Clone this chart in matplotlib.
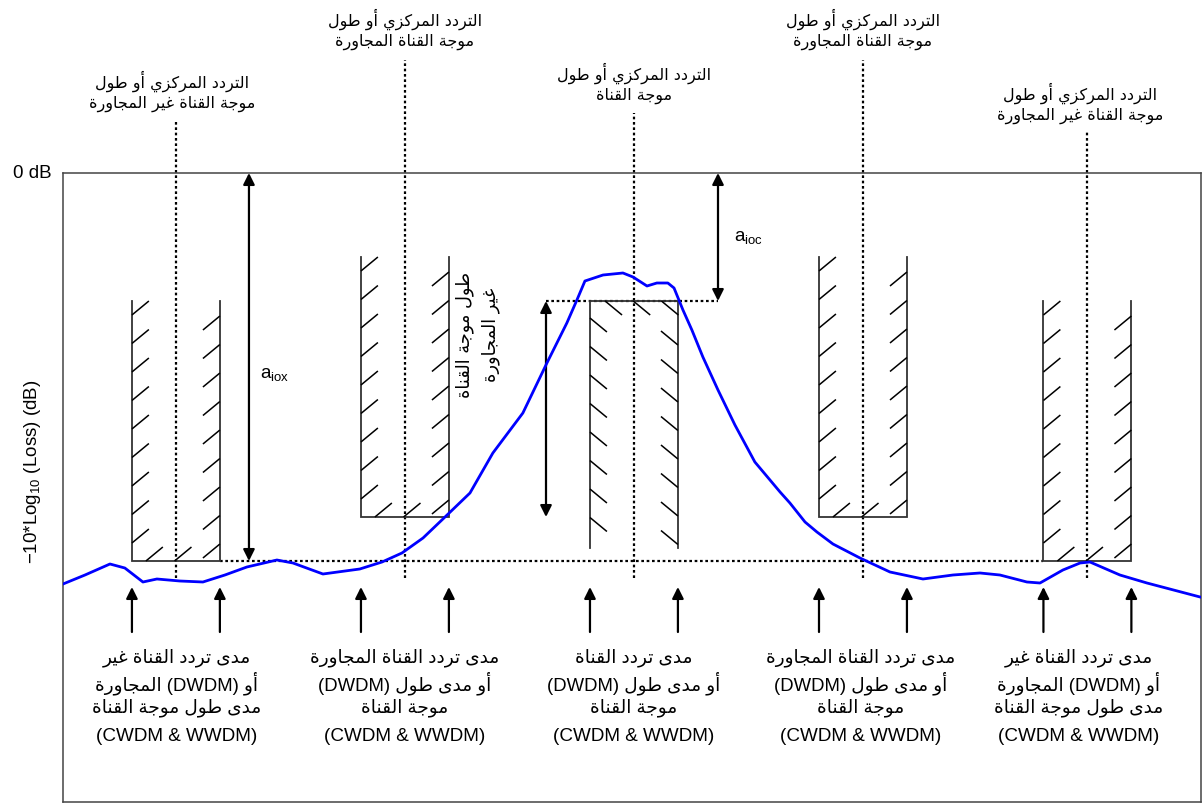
import re
import numpy as np
import matplotlib
matplotlib.use("Agg")
import matplotlib.pyplot as plt
from matplotlib.collections import LineCollection

# ----------------------------
# Data (x in channel spacings, y in dB)
# ----------------------------
channel_pos = [-2.0, -1.0, 0.0, 1.0, 1.98]
mask_top = [-12.8, -8.4, -12.8, -8.4, -12.8]
mask_bottom = [-38.8, -34.4, -37.5, -34.4, -38.8]
mask_half = 0.192

curve_x = [-2.493, -2.397, -2.288, -2.223, -2.144, -2.083, -1.983, -1.882, -1.786,
           -1.690, -1.559, -1.489, -1.358, -1.197, -1.100, -1.013, -0.921, -0.825,
           -0.716, -0.616, -0.485, -0.380, -0.293, -0.249, -0.214, -0.135, -0.048,
           -0.004, 0.057, 0.100, 0.148, 0.175, 0.214, 0.253, 0.301, 0.367, 0.441,
           0.528, 0.638, 0.681, 0.747, 0.799, 0.869, 0.987, 1.118, 1.262, 1.393,
           1.511, 1.598, 1.716, 1.773, 1.873, 1.948, 1.991, 2.122, 2.240, 2.472]
curve_y = [-41.1, -40.2, -39.1, -39.5, -40.9, -40.6, -40.8, -40.9, -40.2,
           -39.4, -38.7, -39.0, -40.1, -39.6, -38.9, -38.0, -36.5, -34.4,
           -32.0, -28.0, -24.0, -19.0, -15.0, -12.7, -10.8, -10.2, -10.0,
           -10.4, -11.3, -11.0, -11.0, -11.5, -13.7, -15.7, -18.4, -21.7, -25.2,
           -28.9, -31.9, -33.0, -34.9, -35.9, -37.1, -38.5, -39.9, -40.6, -40.2,
           -40.0, -40.2, -40.9, -41.0, -39.7, -39.0, -38.9, -40.2, -41.0, -42.4]

center_line_top = [5.1, 11.3, 6.0, 11.3, 4.3]
center_line_bottom = -40.5

top_label_x = [-2.017, -1.0, 0.0, 1.0, 1.948]
top_label_y = [9.2, 15.4, 10.0, 15.4, 8.0]
top_labels = [
    ["التردد المركزي أو طول", "موجة القناة غير المجاورة"],
    ["التردد المركزي أو طول", "موجة القناة المجاورة"],
    ["التردد المركزي أو طول", "موجة القناة"],
    ["التردد المركزي أو طول", "موجة القناة المجاورة"],
    ["التردد المركزي أو طول", "موجة القناة غير المجاورة"],
]

bottom_label_x = [-1.997, -1.0, 0.0, 0.991, 1.943]
bottom_label_y = -48.5
bottom_line_dy = [0.0, -2.5, -5.0, -7.8]
non_adj_text = ["مدى تردد القناة غير", "المجاورة (DWDM) أو", "مدى طول موجة القناة", "(CWDM & WWDM)"]
adj_text = ["مدى تردد القناة المجاورة", "(DWDM) أو مدى طول", "موجة القناة", "(CWDM & WWDM)"]
own_text = ["مدى تردد القناة", "(DWDM) أو مدى طول", "موجة القناة", "(CWDM & WWDM)"]
bottom_labels = [non_adj_text, adj_text, own_text, adj_text, non_adj_text]

side_text = ["طول موجة القناة", "غير المجاورة"]

arrow_tail_y = -45.9
arrow_tip_y = -41.4
aiox_x = -1.681
aioc_x = 0.367
width_arrow_x = -0.384

XLIM = (-2.493, 2.476)
YLIM = (-62.9, 0.0)

# hatch tick geometry
TICK_DX = 0.074
TICK_DY = 1.4
TICK_STEP = 2.85
MASK_COLOR = "#333333"

# ----------------------------
# Minimal Arabic shaping (presentation forms + RTL runs)
# ----------------------------
FORMS = {  # isolated, final, initial, medial
    'ا': ('\uFE8D', '\uFE8E', None, None),
    'أ': ('\uFE83', '\uFE84', None, None),
    'ت': ('\uFE95', '\uFE96', '\uFE97', '\uFE98'),
    'ة': ('\uFE93', '\uFE94', None, None),
    'ج': ('\uFE9D', '\uFE9E', '\uFE9F', '\uFEA0'),
    'د': ('\uFEA9', '\uFEAA', None, None),
    'ر': ('\uFEAD', '\uFEAE', None, None),
    'ز': ('\uFEAF', '\uFEB0', None, None),
    'ط': ('\uFEC1', '\uFEC2', '\uFEC3', '\uFEC4'),
    'غ': ('\uFECD', '\uFECE', '\uFECF', '\uFED0'),
    'ق': ('\uFED5', '\uFED6', '\uFED7', '\uFED8'),
    'ك': ('\uFED9', '\uFEDA', '\uFEDB', '\uFEDC'),
    'ل': ('\uFEDD', '\uFEDE', '\uFEDF', '\uFEE0'),
    'م': ('\uFEE1', '\uFEE2', '\uFEE3', '\uFEE4'),
    'ن': ('\uFEE5', '\uFEE6', '\uFEE7', '\uFEE8'),
    'و': ('\uFEED', '\uFEEE', None, None),
    'ى': ('\uFEEF', '\uFEF0', None, None),
    'ي': ('\uFEF1', '\uFEF2', '\uFEF3', '\uFEF4'),
}
ARABIC_RUN = re.compile(r'[\u0600-\u06FF]+(?: [\u0600-\u06FF]+)*')


def shape(run):
    out = []
    for i, ch in enumerate(run):
        forms = FORMS.get(ch)
        if forms is None:
            out.append(ch)
            continue
        prev = run[i - 1] if i > 0 else ''
        nxt = run[i + 1] if i + 1 < len(run) else ''
        join_prev = prev in FORMS and FORMS[prev][2] is not None
        join_next = nxt in FORMS and forms[2] is not None
        if join_prev and join_next:
            out.append(forms[3])
        elif join_prev:
            out.append(forms[1])
        elif join_next:
            out.append(forms[2])
        else:
            out.append(forms[0])
    return ''.join(out)


def visual(line):
    return ARABIC_RUN.sub(lambda m: shape(m.group(0))[::-1], line)


def line_size(line):
    # Arabic-only, mixed and Latin-only lines get slightly different sizes
    has_ar = bool(ARABIC_RUN.search(line))
    has_lat = bool(re.search(r'[A-Za-z]', line))
    if has_ar and has_lat:
        return 13.3
    return 13.3 if has_ar else 13.6


# ----------------------------
# Mask drawing helpers
# ----------------------------
def u_mask(ax, xc, top, bottom):
    xl, xr = xc - mask_half, xc + mask_half
    ax.plot([xl, xl, xr, xr], [top, bottom, bottom, top], color=MASK_COLOR, lw=1.3,
            solid_joinstyle='miter', zorder=3)
    segs = []
    for yt in np.arange(top, bottom, -TICK_STEP):
        if yt - TICK_DY >= bottom + 0.3:
            segs.append([(xl, yt - TICK_DY), (xl + TICK_DX, yt)])
    for yt in np.arange(top - 1.5, bottom, -TICK_STEP):
        if yt - TICK_DY >= bottom - 0.4:
            segs.append([(xr - TICK_DX, max(yt - TICK_DY, bottom)), (xr, yt)])
    for xs in np.arange(xl + 0.061, xr, 0.125):
        if xs + TICK_DX <= xr - 0.05:
            segs.append([(xs, bottom), (xs + TICK_DX, bottom + TICK_DY)])
    ax.add_collection(LineCollection(segs, colors='k', linewidths=1.1, zorder=3))


def cap_mask(ax, xc, top, bottom):
    xl, xr = xc - mask_half, xc + mask_half
    ax.plot([xl, xl, xr, xr], [bottom, top, top, bottom], color=MASK_COLOR, lw=1.3,
            solid_joinstyle='miter', zorder=3)
    segs = []
    for y in np.arange(top - 1.7, bottom, -TICK_STEP):
        if y - TICK_DY >= bottom:
            segs.append([(xl, y), (xl + TICK_DX, y - TICK_DY)])
    for xs in np.arange(xl + 0.066, xr, 0.123):
        if xs + TICK_DX <= xr + 0.01:
            segs.append([(xs, top), (xs + TICK_DX, top - TICK_DY)])
    for y in np.arange(top - 3.0, bottom, -TICK_STEP):
        if y - TICK_DY >= bottom:
            segs.append([(xr - TICK_DX, y), (xr, y - TICK_DY)])
    ax.add_collection(LineCollection(segs, colors='k', linewidths=1.1, zorder=3))


def arrow(ax, x, y_from, y_to, style):
    ax.annotate('', xy=(x, y_to), xytext=(x, y_from), annotation_clip=False,
                arrowprops=dict(arrowstyle=style, color='k', lw=1.6,
                                mutation_scale=17, shrinkA=0, shrinkB=0), zorder=4)


# ----------------------------
# Figure
# ----------------------------
plt.rcParams['font.family'] = ['Liberation Sans', 'DejaVu Sans']
plt.rcParams['mathtext.fontset'] = 'custom'
plt.rcParams['mathtext.rm'] = 'Liberation Sans'

fig = plt.figure(figsize=(12.03, 8.05), dpi=100)
ax = fig.add_axes([63 / 1203, 3 / 805, 1138 / 1203, 629 / 805])
ax.set_xlim(*XLIM)
ax.set_ylim(*YLIM)
ax.set_xticks([])
ax.set_yticks([])
for sp in ax.spines.values():
    sp.set_color('#444444')
    sp.set_linewidth(1.1)

dots = (0, (1.2, 1.2))
# channel centre lines
for xc, yt in zip(channel_pos, center_line_top):
    ax.plot([xc, xc], [center_line_bottom, yt], color='k', lw=1.6, ls=dots,
            clip_on=False, zorder=2)
# horizontal reference levels
ax.plot([channel_pos[0] + mask_half, channel_pos[4] - mask_half],
        [mask_bottom[0], mask_bottom[0]], color='k', lw=1.6, ls=dots, zorder=2)
ax.plot([width_arrow_x, aioc_x], [mask_top[2], mask_top[2]], color='k', lw=1.6,
        ls=dots, zorder=2)

# masks
for i, xc in enumerate(channel_pos):
    if i == 2:
        cap_mask(ax, xc, mask_top[i], mask_bottom[i])
    else:
        u_mask(ax, xc, mask_top[i], mask_bottom[i])

# transfer curve
ax.plot(curve_x, curve_y, color='#0000ff', lw=2.0, zorder=5)

# isolation arrows
arrow(ax, aiox_x, mask_bottom[0], 0.0, '<|-|>')
arrow(ax, aioc_x, mask_top[2], 0.0, '<|-|>')
arrow(ax, width_arrow_x, mask_top[2], mask_bottom[1], '<|-|>')
ax.text(aiox_x + 0.05, -20.2, r'a$_{\mathrm{iox}}$', fontsize=13.5, va='center')
ax.text(aioc_x + 0.07, -6.5, r'a$_{\mathrm{ioc}}$', fontsize=13.5, va='center')

# bottom arrows at mask edges
for xc in channel_pos:
    for xe in (xc - mask_half, xc + mask_half):
        arrow(ax, xe, arrow_tail_y, arrow_tip_y, '-|>')

# text labels
ax.text(-2.541, 0.0, '0 dB', fontsize=13.5, ha='right', va='center', clip_on=False)
ax.text(-2.624, -29.9, r'−10*Log$_{\mathrm{10}}$ (Loss) (dB)', fontsize=13.5,
        rotation=90, ha='center', va='center', clip_on=False)

for x, y, lines in zip(top_label_x, top_label_y, top_labels):
    for k, line in enumerate(lines):
        ax.text(x, y - 2.3 * k, visual(line), fontsize=11.5, family='DejaVu Sans',
                ha='center', va='center', clip_on=False)

for x, lines in zip(bottom_label_x, bottom_labels):
    for dy, line in zip(bottom_line_dy, lines):
        ax.text(x, bottom_label_y + dy, visual(line), fontsize=line_size(line),
                ha='center', va='center')

ax.text(-0.683, -16.2, '\n'.join(visual(s) for s in side_text), fontsize=12.8,
        family='DejaVu Sans', rotation=90, ha='center', va='center',
        multialignment='center', linespacing=1.5)

fig.savefig('out.png', dpi=100)
